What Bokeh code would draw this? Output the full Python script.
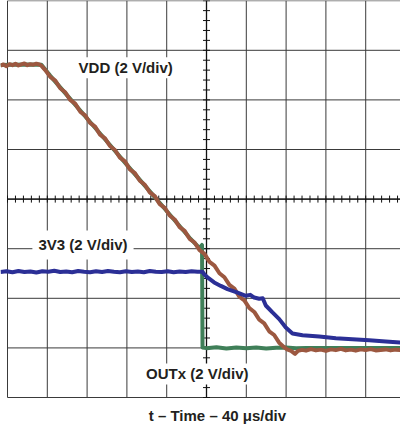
from bokeh.plotting import figure
from bokeh.models import Range1d, Label
from bokeh.embed import file_html
from bokeh.resources import INLINE

# Time in microseconds (40 us/div), voltage in volts (2 V/div)
vdd_t = [-7, -4, -1, 2, 5, 8, 11, 14, 17, 20, 23, 26, 29, 32, 34, 38, 43, 48, 53, 58, 63,
         68, 73, 78, 83, 88, 93, 98, 103, 108, 113, 118, 123, 128, 133, 138, 143,
         148, 153, 158, 163, 168, 173, 178, 183, 188, 193, 198, 203, 208, 213, 218,
         223, 228, 233, 238, 243, 248, 253, 258, 263, 268, 273, 278, 281, 285, 289,
         292, 296, 300, 305, 310, 315, 320, 325, 330, 335, 340, 345, 350, 355, 360,
         365, 370, 375, 380, 385, 390, 395]
vdd_v = [11.38, 11.43, 11.36, 11.44, 11.40, 11.46, 11.39, 11.43, 11.47, 11.40, 11.44,
         11.42, 11.46, 11.43, 11.38, 11.20, 10.93, 10.78, 10.47, 10.31, 10.00,
         9.85, 9.53, 9.38, 9.07, 8.92, 8.60, 8.45, 8.14, 7.98, 7.67, 7.52, 7.20,
         7.05, 6.74, 6.58, 6.27, 6.12, 5.80, 5.65, 5.34, 5.18, 4.87, 4.72, 4.40,
         4.25, 3.94, 3.79, 3.47, 3.32, 3.01, 2.85, 2.54, 2.39, 2.07, 1.92, 1.61,
         1.45, 1.14, 0.99, 0.67, 0.52, 0.21, 0.03, -0.06, -0.12, -0.24, -0.12,
         -0.08, -0.11, -0.05, -0.10, -0.07, -0.12, -0.06, -0.09, -0.04, -0.10,
         -0.07, -0.11, -0.06, -0.09, -0.05, -0.10, -0.08, -0.06, -0.10, -0.07, -0.09]

outx_t = [-7, 5, 20, 34, 43, 63, 83, 103, 123, 143, 163, 183, 193, 195.5, 196.0,
          200, 210, 220, 230, 240, 250, 260, 270, 280, 290, 300, 320, 340, 360, 380, 395]
outx_v = [11.41, 11.42, 11.43, 11.42, 10.97, 10.04, 9.11, 8.18, 7.24, 6.31, 5.38,
          4.44, 4.02, 4.15, 0.02, -0.01, 0.03, -0.02, 0.02, -0.01, 0.02, -0.02,
          0.01, 0.02, -0.01, 0.00, 0.00, 0.00, 0.00, 0.00, 0.00]

v33_t = [-7, -1, 5, 11, 17, 23, 29, 35, 41, 47, 53, 59, 65, 71, 77, 83, 89, 95, 101,
         107, 113, 119, 125, 131, 137, 143, 149, 155, 161, 167, 173, 179, 185, 191,
         196.0, 197.7, 201.0, 207.7, 214.4, 221.1, 231.2, 239.5, 244.0, 247.9,
         253.0, 256.5, 259.6, 266.3, 273.1, 279.7, 286.4, 296.5, 313.3, 330.0,
         346.7, 363.5, 380.2, 395]
v33_v = [3.06, 3.09, 3.05, 3.10, 3.06, 3.08, 3.04, 3.09, 3.07, 3.11, 3.06, 3.08,
         3.05, 3.10, 3.07, 3.05, 3.09, 3.06, 3.10, 3.07, 3.05, 3.09, 3.06, 3.08,
         3.05, 3.10, 3.07, 3.06, 3.09, 3.05, 3.08, 3.06, 3.09, 3.07,
         3.07, 2.97, 2.84, 2.64, 2.50, 2.37, 2.23, 2.10, 2.14, 2.03,
         1.98, 2.00, 1.71, 1.43, 1.16, 0.82, 0.58, 0.51, 0.46, 0.39,
         0.35, 0.31, 0.26, 0.22]

grid_t = [0, 40, 80, 120, 160, 200, 240, 280, 320, 360]
grid_v = [-2, 0, 2, 4, 6, 8, 10, 12, 14]
t_lo, t_hi = 0, 395
v_lo, v_hi = -2, 14
minor_t = [i * 8 for i in range(50)]
minor_v = [-2 + i * 0.4 for i in range(41)]

FONT = "Liberation Sans"
GRID = "#3a3a3a"

p = figure(width=400, height=426, output_backend="svg", toolbar_location=None,
           x_range=Range1d(-7.04, 394.97), y_range=Range1d(-3.169, 14.008),
           x_axis_type=None, y_axis_type=None, min_border=0,
           background_fill_color="white", border_fill_color="white")
p.outline_line_color = None

# grid
p.segment(x0=grid_t, y0=[v_lo] * len(grid_t), x1=grid_t, y1=[v_hi] * len(grid_t),
          line_color=GRID, line_width=1)
p.segment(x0=[t_lo] * len(grid_v), y0=grid_v, x1=[t_hi] * len(grid_v), y1=grid_v,
          line_color=GRID, line_width=1)
# center axes with minor ticks
p.segment(x0=[200], y0=[v_lo], x1=[200], y1=[v_hi], line_color="#111111", line_width=1.3)
p.segment(x0=[t_lo], y0=[6], x1=[t_hi], y1=[6], line_color="#111111", line_width=1.3)
p.scatter(x=minor_t, y=[6] * len(minor_t), marker="dash", size=7, angle=1.5708,
          line_color="#111111", line_width=1)
p.scatter(x=[200] * len(minor_v), y=minor_v, marker="dash", size=7,
          line_color="#111111", line_width=1)

# traces
p.line(outx_t, outx_v, line_color="#3f7f58", line_width=4, line_join="round")
p.line(vdd_t, vdd_v, line_color="#9c5840", line_width=4, line_join="round")
p.line(v33_t, v33_v, line_color="#2b2f96", line_width=4, line_join="round")

def lab(x, y, text, pad, align="left", baseline="middle", bg="white"):
    p.add_layout(Label(x=x, y=y, text=text, text_font=FONT, text_font_size="15px",
                       text_font_style="bold", text_color="#231f20",
                       text_align=align, text_baseline=baseline,
                       background_fill_color=bg, padding=pad))

lab(69.4, 11.30, "VDD (2 V/div)", 2)
lab(25.0, 4.15, "3V3 (2 V/div)", 6)
lab(137.2, -1.05, "OUTx (2 V/div)", 2)
lab(211.0, -3.05, "t \u2013 Time \u2013 40 \u03bcs/div", 0, align="center",
    baseline="bottom", bg=None)

open("out.html", "w").write(file_html(p, INLINE))
